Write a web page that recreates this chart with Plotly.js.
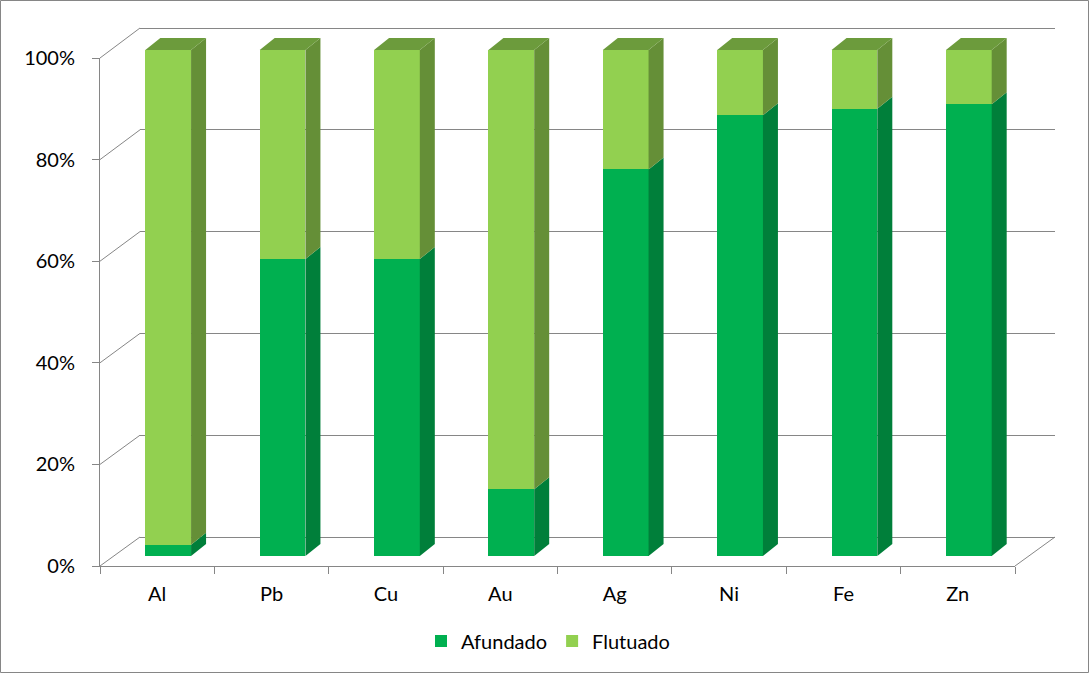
<!DOCTYPE html>
<html>
<head>
<meta charset="utf-8">
<script src="https://cdn.plot.ly/plotly-3.0.1.min.js"></script>
<style>html,body{margin:0;padding:0;background:#fff;}#chart{width:1090px;height:674px;}</style>
</head>
<body>
<div id="chart"></div>
<script>
// ---- data ----
const categories = ['Al', 'Pb', 'Cu', 'Au', 'Ag', 'Ni', 'Fe', 'Zn'];
const afundado = [2.2, 58.7, 58.7, 13.2, 76.4, 87.1, 88.4, 89.3];
const flutuado = [97.8, 41.3, 41.3, 86.8, 23.6, 12.9, 11.6, 10.7];
const yTickVals = [0, 20, 40, 60, 80, 100];
const yTickText = ['0%', '20%', '40%', '60%', '80%', '100%'];

// ---- geometry (pixels) ----
const W = 1090, H = 674;
const front = {x0: 100, x1: 1015, y0: 566, y100: 58};
const back  = {x0: 140, x1: 1055, y0: 537, y100: 28};
const plane = {x0: 111, x1: 1026, y0: 556, y100: 50};
const depthPx = {dx: 15, dy: 12};
const barWidth = 0.4;

const GRID = '#868686';
const COL = {
  dark: '#00B050', darkSide: '#007F3A',
  light: '#92D050', lightSide: '#658F37', lightTop: '#6C9B3C'
};

const fx = px => px / W;
const fy = py => (H - py) / H;
const vy = (p, v) => p.y0 + (p.y100 - p.y0) * v / 100;

// bar axes ranges
const barYRange = [-3, 105];
const barXRange = [-0.5, categories.length - 0.5];
const backYRange = [-2, 102];

const idx = categories.map((c, i) => i);

const traces = [
  {type: 'bar', name: 'Afundado', x: idx, y: afundado, xaxis: 'x2', yaxis: 'y2',
   width: barWidth, marker: {color: COL.dark, line: {width: 0}}, hoverinfo: 'skip'},
  {type: 'bar', name: 'Flutuado', x: idx, y: flutuado, xaxis: 'x2', yaxis: 'y2',
   width: barWidth, marker: {color: COL.light, line: {width: 0}}, hoverinfo: 'skip'},
  // helper traces so the wall and front axes are drawn
  {type: 'scatter', x: [0, 1], y: [null, null], xaxis: 'x', yaxis: 'y', showlegend: false, hoverinfo: 'skip'},
  {type: 'scatter', x: categories, y: categories.map(() => null), xaxis: 'x3', yaxis: 'y3', showlegend: false, hoverinfo: 'skip'}
];

// 3D faces computed from data in bar-axis units
const pxPerX = (plane.x1 - plane.x0) / (barXRange[1] - barXRange[0]);
const pxPerY = (plane.y0 - plane.y100) / 100;
const ddx = depthPx.dx / pxPerX;
const ddy = depthPx.dy / pxPerY;

const shapes = [];
idx.forEach(i => {
  const L = i - barWidth / 2, R = i + barWidth / 2;
  const a = afundado[i], t = afundado[i] + flutuado[i];
  shapes.push({type: 'path', xref: 'x2', yref: 'y2', layer: 'above', line: {width: 0}, fillcolor: COL.darkSide,
    path: `M${R},0 L${R + ddx},${ddy} L${R + ddx},${a + ddy} L${R},${a} Z`});
  shapes.push({type: 'path', xref: 'x2', yref: 'y2', layer: 'above', line: {width: 0}, fillcolor: COL.lightSide,
    path: `M${R},${a} L${R + ddx},${a + ddy} L${R + ddx},${t + ddy} L${R},${t} Z`});
  shapes.push({type: 'path', xref: 'x2', yref: 'y2', layer: 'above', line: {width: 0}, fillcolor: COL.lightTop,
    path: `M${L},${t} L${R},${t} L${R + ddx},${t + ddy} L${L + ddx},${t + ddy} Z`});
});
// left wall diagonals
yTickVals.forEach(v => {
  shapes.push({type: 'line', xref: 'paper', yref: 'paper', layer: 'below',
    x0: fx(front.x0), y0: fy(vy(front, v)), x1: fx(back.x0), y1: fy(vy(back, v)),
    line: {color: GRID, width: 1}});
});
// right floor diagonal
shapes.push({type: 'line', xref: 'paper', yref: 'paper', layer: 'below',
  x0: fx(front.x1), y0: fy(vy(front, 0)), x1: fx(back.x1), y1: fy(vy(back, 0)),
  line: {color: GRID, width: 1}});
// outer border
shapes.push({type: 'rect', xref: 'paper', yref: 'paper', layer: 'below',
  x0: fx(0.5), y0: fy(672.5), x1: fx(1088.5), y1: fy(0.5),
  line: {color: GRID, width: 1}});

const layout = {
  width: W, height: H,
  margin: {l: 0, r: 0, t: 0, b: 0, pad: 0},
  paper_bgcolor: '#ffffff', plot_bgcolor: 'rgba(0,0,0,0)',
  font: {family: 'Lato, "Open Sans", sans-serif', size: 20, color: '#000000'},
  barmode: 'stack',
  showlegend: true,
  legend: {orientation: 'h', x: fx(548), xanchor: 'center', y: fy(641), yanchor: 'middle',
           font: {size: 20}, traceorder: 'normal', bgcolor: 'rgba(0,0,0,0)'},
  // back wall
  xaxis: {domain: [fx(back.x0), fx(back.x1)], range: [0, 1], visible: false, anchor: 'y', fixedrange: true},
  yaxis: {domain: [fy(vy(back, backYRange[0])), fy(vy(back, backYRange[1]))], range: backYRange, anchor: 'x',
          tickvals: yTickVals, showticklabels: false, ticks: '', showgrid: true, gridcolor: GRID, gridwidth: 1,
          zeroline: false, showline: false, fixedrange: true},
  // bar plane
  xaxis2: {domain: [fx(plane.x0), fx(plane.x1)], range: barXRange, visible: false, anchor: 'y2', fixedrange: true},
  yaxis2: {domain: [fy(vy(plane, barYRange[0])), fy(vy(plane, barYRange[1]))], range: barYRange, visible: false,
           anchor: 'x2', fixedrange: true},
  // front axes
  xaxis3: {domain: [fx(front.x0), fx(front.x1)], anchor: 'y3', type: 'category', categoryarray: categories,
           categoryorder: 'array', range: [-0.5, categories.length - 0.5],
           showline: true, linecolor: GRID, linewidth: 1, ticks: 'outside', tickson: 'boundaries', ticklen: 7,
           tickcolor: GRID, showgrid: false, zeroline: false, ticklabelstandoff: 10, fixedrange: true},
  yaxis3: {domain: [fy(front.y0), fy(front.y100)], anchor: 'x3', range: [0, 100], tickvals: yTickVals, ticktext: yTickText,
           showline: true, linecolor: GRID, linewidth: 1, ticks: 'outside', ticklen: 7, tickcolor: GRID,
           showgrid: false, zeroline: false, ticklabelstandoff: 13, fixedrange: true},
  shapes: shapes
};

Plotly.newPlot('chart', traces, layout, {displayModeBar: false, staticPlot: true});
</script>
</body>
</html>
